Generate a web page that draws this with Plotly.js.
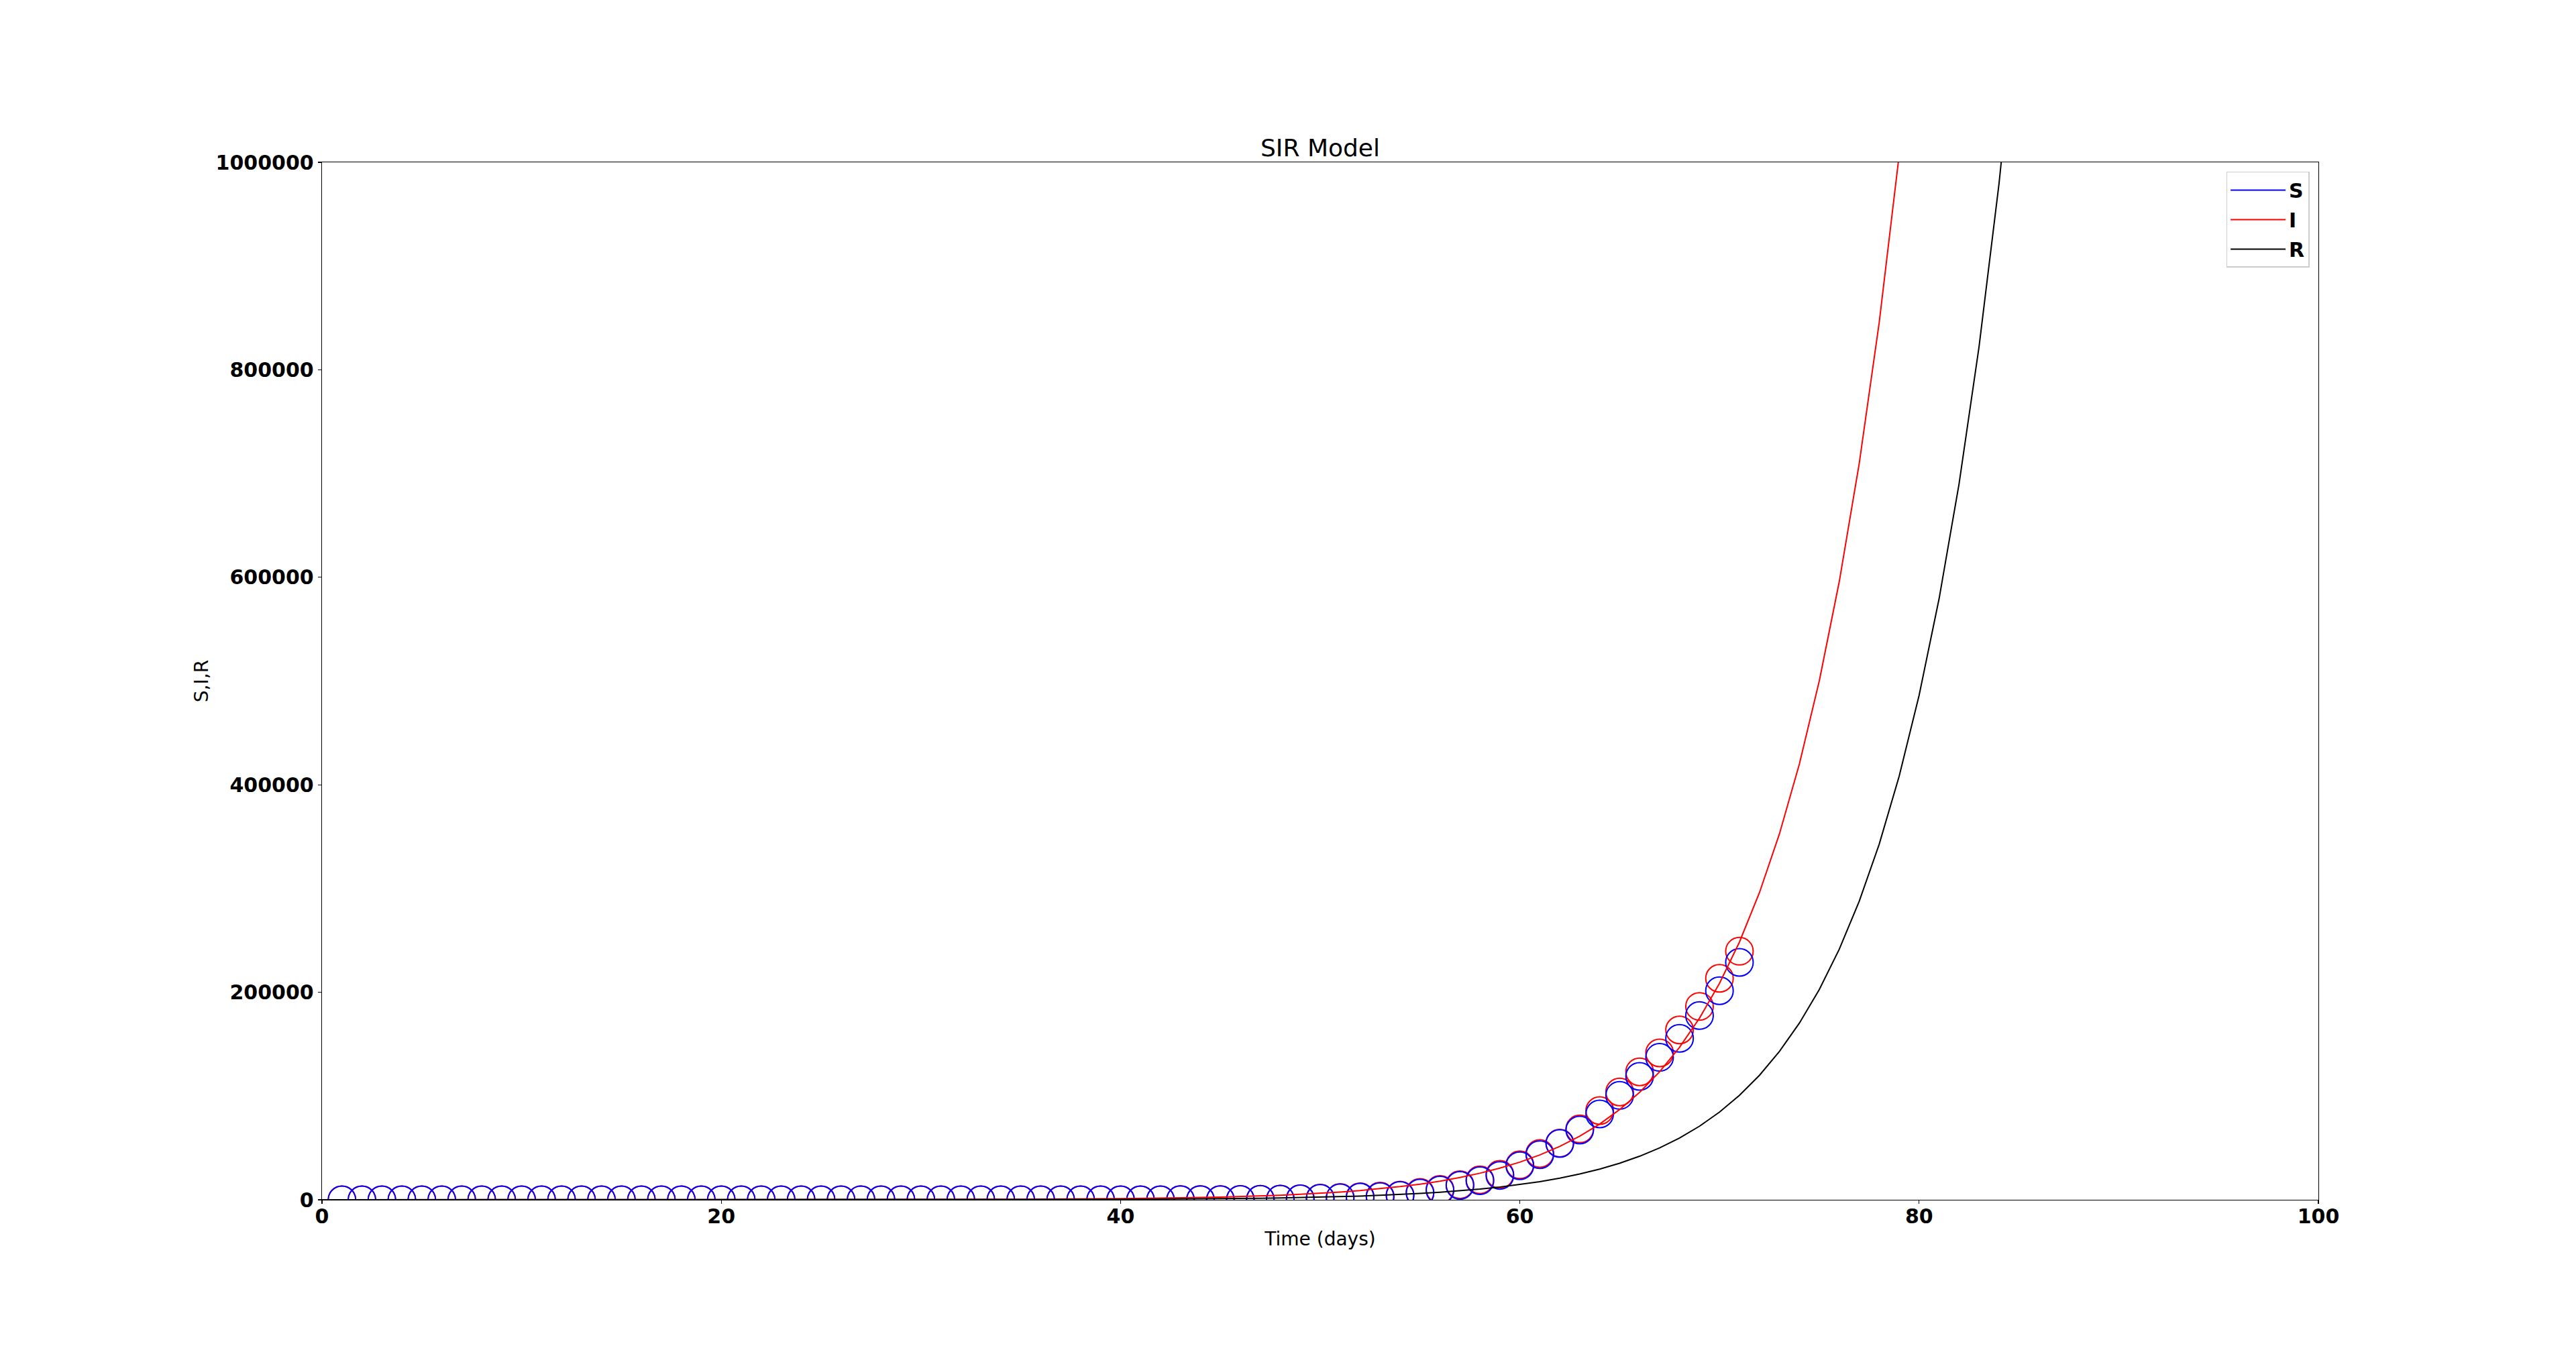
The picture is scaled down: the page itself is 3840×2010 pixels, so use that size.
<!DOCTYPE html>
<html>
<head>
<meta charset="utf-8">
<script src="https://cdn.plot.ly/plotly-3.0.1.min.js"></script>
<style>html,body{margin:0;padding:0;background:#fff;}#chart{width:3840px;height:2010px;}</style>
</head>
<body>
<div id="chart"></div>
<script>
// ---- data ----
const markerDays = Array.from({length: 71}, (_, i) => i + 1); // days 1..71

// red open circles (observed, upper series)
const observedRed = [
  1, 2, 2, 5, 5, 5, 5, 5, 6, 8,
  8, 11, 11, 11, 12, 12, 12, 12, 12, 13,
  13, 14, 14, 14, 14, 14, 14, 14, 14, 16,
  16, 16, 16, 16, 16, 16, 17, 18, 25, 32,
  55, 74, 107, 184, 237, 403, 519, 594, 1000, 1600,
  2200, 2900, 3500, 4600, 7100, 10000, 14600, 19300, 24500, 33700,
  44600, 54700, 68300, 86000, 103900, 123300, 141600, 163700, 186400, 213500,
  239600
];

// blue open circles (observed, lower series)
const observedBlue = [
  1, 2, 2, 5, 5, 5, 5, 5, 6, 8,
  8, 11, 11, 11, 11, 11, 11, 11, 11, 10,
  10, 11, 11, 11, 11, 11, 11, 11, 11, 9,
  9, 9, 9, 9, 9, 9, 10, 11, 18, 25,
  48, 66, 98, 174, 226, 390, 505, 578, 950, 1500,
  2000, 2600, 3100, 4200, 6400, 9300, 13900, 18400, 23500, 32800,
  43500, 54300, 67200, 82700, 100600, 118900, 137300, 155600, 177600, 201500,
  228800
];

// model curves
const lineDaysI = [0, 5, 10, 15, 20, 25, 30, 35, 40, 41, 42, 43, 44, 45, 46, 47, 48, 49,
  50, 51, 52, 53, 54, 55, 56, 57, 58, 59, 60, 61, 62, 63, 64, 65, 66, 67, 68, 69,
  70, 71, 72, 73, 74, 75, 76, 77, 78, 79, 80];
const infected = [1, 2.5, 6, 14, 33, 80, 190, 460, 1100, 1300, 1550, 1850, 2200, 2600, 3100, 3700, 4400, 5300,
  6300, 7500, 8900, 10700, 12700, 15100, 18000, 21500, 25600, 30500, 36300, 43200, 51500, 61300, 73000, 87000, 103600, 123400, 147000, 175100,
  208600, 248400, 295900, 352500, 419900, 500200, 595800, 709700, 845400, 1007000, 1199000];

const lineDaysR = [0, 10, 20, 30, 35, 40, 41, 42, 43, 44, 45, 46, 47, 48, 49,
  50, 51, 52, 53, 54, 55, 56, 57, 58, 59, 60, 61, 62, 63, 64, 65, 66, 67, 68, 69,
  70, 71, 72, 73, 74, 75, 76, 77, 78, 79, 80, 81, 82, 83, 84, 85];
const recovered = [0, 1, 8, 75, 190, 445, 530, 630, 750, 900, 1070, 1270, 1510, 1800, 2150,
  2560, 3040, 3620, 4320, 5140, 6120, 7290, 8690, 10350, 12330, 14690, 17500, 20840, 24830, 29580, 35240, 41980, 50000, 59560, 70950,
  84520, 100700, 119900, 142900, 170200, 202700, 241500, 287700, 342700, 408200, 486300, 579300, 690000, 822000, 979000, 1166000];

// susceptible curve lies above the visible range (only its legend entry shows)
const lineDaysS = [0, 50, 100];
const susceptible = [3.3e8, 3.3e8, 3.28e8];

const tickFont = {family: 'DejaVu Sans', size: 30, color: '#000', weight: 'bold'};

const traces = [
  {x: markerDays, y: observedRed, mode: 'markers', type: 'scatter', showlegend: false,
   marker: {symbol: 'circle-open', size: 41, color: '#ff0000', line: {width: 2, color: '#ff0000'}}},
  {x: markerDays, y: observedBlue, mode: 'markers', type: 'scatter', showlegend: false,
   marker: {symbol: 'circle-open', size: 41, color: '#0000ff', line: {width: 2, color: '#0000ff'}}},
  {x: lineDaysS, y: susceptible, mode: 'lines', type: 'scatter', name: 'S', legendgroup: 'gS',
   line: {color: '#0000ff', width: 2}},
  {x: lineDaysI, y: infected, mode: 'lines', type: 'scatter', name: 'I', legendgroup: 'gI',
   line: {color: '#ff0000', width: 2}},
  {x: lineDaysR, y: recovered, mode: 'lines', type: 'scatter', name: 'R', legendgroup: 'gR',
   line: {color: '#000000', width: 2}}
];

const axisCommon = {
  showline: true, mirror: true, linecolor: '#000', linewidth: 1.3,
  showgrid: false, zeroline: false,
  ticks: 'outside', ticklen: 5, tickwidth: 1.3, tickcolor: '#000',
  tickfont: tickFont
};

const layout = {
  width: 3840, height: 2010,
  paper_bgcolor: '#fff', plot_bgcolor: '#fff',
  margin: {l: 480, r: 384, t: 242, b: 221, pad: 0},
  font: {family: 'DejaVu Sans', color: '#000'},
  title: {text: 'SIR Model', font: {family: 'DejaVu Sans', size: 36, color: '#000'},
          x: 0.5, xref: 'paper', y: 1, yref: 'paper', yanchor: 'bottom', pad: {b: 9}},
  xaxis: Object.assign({}, axisCommon, {
    range: [0, 100], dtick: 20, tick0: 0, ticklabelstandoff: -7,
    title: {text: 'Time (days)', font: {family: 'DejaVu Sans', size: 28, color: '#000'}, standoff: 7}
  }),
  yaxis: Object.assign({}, axisCommon, {
    range: [0, 1000000], dtick: 200000, tick0: 0, tickformat: 'd',
    title: {text: 'S,I,R', font: {family: 'DejaVu Sans', size: 28, color: '#000'}, standoff: 2}
  }),
  showlegend: true,
  legend: {
    x: 0.9955, y: 0.991, xanchor: 'right', yanchor: 'top',
    bgcolor: '#fff', bordercolor: '#cccccc', borderwidth: 1.5,
    font: {family: 'DejaVu Sans', size: 30, color: '#000', weight: 'bold'},
    itemwidth: 82, tracegroupgap: 2
  }
};

Plotly.newPlot('chart', traces, layout, {staticPlot: true, displayModeBar: false});
</script>
</body>
</html>
